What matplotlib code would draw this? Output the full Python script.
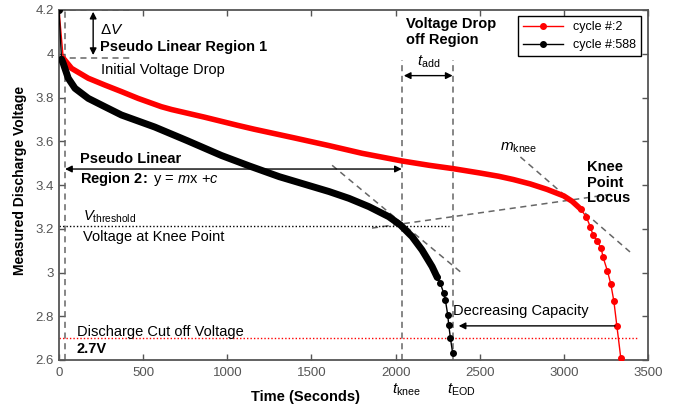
import matplotlib
matplotlib.use("Agg")
import matplotlib.pyplot as plt
from matplotlib.transforms import blended_transform_factory

plt.rcParams['font.family'] = ['Liberation Sans', 'DejaVu Sans']
plt.rcParams['mathtext.fontset'] = 'custom'
plt.rcParams['mathtext.rm'] = 'Liberation Sans'
plt.rcParams['mathtext.it'] = 'Liberation Sans:italic'
plt.rcParams['mathtext.bf'] = 'Liberation Sans:bold'

# ---- data ----
red_t = [0, 25, 75, 174, 272, 371, 470, 608, 669, 865, 1060, 1160, 1400, 1605, 1800,
         2037, 2200, 2340, 2500, 2612, 2700, 2800, 2900, 3000, 3050, 3100, 3133, 3157,
         3174, 3198, 3222, 3233, 3259, 3279, 3297, 3315, 3338]
red_v = [4.20, 3.98, 3.933, 3.888, 3.857, 3.827, 3.796, 3.758, 3.745, 3.71, 3.673, 3.655,
         3.615, 3.58, 3.545, 3.51, 3.49, 3.475, 3.455, 3.44, 3.425, 3.405, 3.38, 3.35,
         3.325, 3.29, 3.254, 3.21, 3.17, 3.144, 3.11, 3.07, 3.007, 2.947, 2.87, 2.756, 2.611]
red_dense = (1, 25)   # index range drawn as a thick band

blk_t = [0, 15, 25, 55, 95, 174, 272, 371, 569, 764, 965, 1131, 1309, 1605, 1723, 1842,
         1960, 2029, 2098, 2157, 2217, 2246, 2266, 2286, 2296, 2310, 2316, 2326, 2339]
blk_v = [4.20, 3.975, 3.956, 3.888, 3.842, 3.796, 3.758, 3.72, 3.665, 3.602, 3.535, 3.487,
         3.438, 3.37, 3.339, 3.301, 3.255, 3.217, 3.164, 3.103, 3.027, 2.98, 2.95, 2.906,
         2.874, 2.806, 2.76, 2.70, 2.632]
blk_dense = (1, 21)

series_labels = ['cycle #:2', 'cycle #:588']
x_ticks = [0, 500, 1000, 1500, 2000, 2500, 3000, 3500]
y_ticks = [2.6, 2.8, 3.0, 3.2, 3.4, 3.6, 3.8, 4.0, 4.2]
y_tick_labels = ['2.6', '2.8', '3', '3.2', '3.4', '3.6', '3.8', '4', '4.2']

fig = plt.figure(figsize=(6.81, 4.09), dpi=100)
ax = fig.add_axes([59/681, 1-360/409, 589/681, 350/409])

gray = '#555555'
# dense parts as thick bands
a, b = red_dense
ax.plot(red_t[a:b+1], red_v[a:b+1], color='red', lw=4.0,
        solid_capstyle='round', solid_joinstyle='round', zorder=3)
a, b = blk_dense
ax.plot(blk_t[a:b+1], blk_v[a:b+1], color='black', lw=5.0,
        solid_capstyle='round', solid_joinstyle='round', zorder=4)
# initial drop (thin) + start dot
ax.plot(red_t[:2], red_v[:2], color='red', lw=1.0, zorder=3)
ax.plot(blk_t[:2], blk_v[:2], color='black', lw=1.0, zorder=4)
ax.plot(blk_t[0], blk_v[0], 'o', color='black', ms=4, zorder=5)
# sparse tails with dots (also legend handles)
a, b = red_dense
ax.plot(red_t[b:], red_v[b:], color='red', lw=1.0, marker='o', ms=4, zorder=3,
        label=series_labels[0])
a, b = blk_dense
ax.plot(blk_t[b:], blk_v[b:], color='black', lw=1.0, marker='o', ms=4, zorder=4,
        label=series_labels[1])

ax.set_xlim(0, 3500)
ax.set_ylim(2.6, 4.2)
ax.set_xticks(x_ticks)
ax.set_yticks(y_ticks)
ax.set_yticklabels(y_tick_labels)
ax.tick_params(direction='in', top=True, right=True, length=4, width=1, colors=gray,
               labelsize=9.5, labelcolor=gray)
ax.tick_params(axis='x', pad=5)
for s in ax.spines.values():
    s.set_color(gray)
    s.set_linewidth(1.3)

dash = dict(color='#666666', lw=1.1, ls=(0, (4, 3)), zorder=2)
# initial voltage drop lines
ax.plot([0, 420], [4.2, 4.2], **dash)
ax.plot([0, 420], [3.982, 3.982], **dash)
ax.plot([36, 36], [2.6, 4.2], **dash)
ax.plot([2037, 2037], [2.6, 3.97], **dash)
ax.plot([2339, 2339], [2.6, 3.97], **dash)
# tangent / locus lines
ax.plot([1623, 2393], [3.49, 2.998], **dash)
ax.plot([1860, 3304], [3.203, 3.36], **dash)
ax.plot([2742, 3393], [3.528, 3.094], **dash)
# threshold dotted
ax.plot([0, 2315], [3.212, 3.212], color='black', lw=1.0, ls=(0, (1, 1.5)), zorder=2)
# cut off dotted
ax.plot([0, 3441], [2.70, 2.70], color='red', lw=1.0, ls=(0, (1, 1.5)), zorder=2)

ap2 = dict(arrowstyle='<|-|>', color='black', lw=1.0, mutation_scale=10, shrinkA=0, shrinkB=0)
ap1 = dict(arrowstyle='-|>', color='black', lw=1.0, mutation_scale=10, shrinkA=0, shrinkB=0)
ax.annotate('', xy=(203, 3.994), xytext=(203, 4.192), arrowprops=ap2)
ax.annotate('', xy=(36, 3.473), xytext=(2037, 3.473), arrowprops=ap2)
ax.annotate('', xy=(2049, 3.90), xytext=(2339, 3.90), arrowprops=ap2)
ax.annotate('', xy=(2375, 2.756), xytext=(3304, 2.756), arrowprops=ap1)

fs = 10.5
ax.text(243, 4.11, r'$\mathit{\Delta V}$', fontsize=11, va='center', ha='left')
ax.text(243, 4.03, 'Pseudo Linear Region 1', fontsize=fs, fontweight='bold', va='center')
ax.text(250, 3.926, 'Initial Voltage Drop', fontsize=fs, va='center')
ax.text(2061, 4.10, 'Voltage Drop\noff Region', fontsize=fs, fontweight='bold',
        va='center', linespacing=1.15)
ax.text(2197, 3.965, r'$\mathit{t}_{\mathrm{add}}$', fontsize=11, va='center', ha='center')
ax.text(124, 3.52, 'Pseudo Linear', fontsize=fs, fontweight='bold', va='center')
ax.text(124, 3.427, r'$\mathbf{Region\ 2\!:}$ y = $\mathit{m}$x +$\mathit{c}$', fontsize=fs,
        va='center')
ax.text(142, 3.255, r'$\mathit{V}_{\mathrm{threshold}}$', fontsize=10.5, va='center')
ax.text(142, 3.16, 'Voltage at Knee Point', fontsize=fs, va='center')
ax.text(2623, 3.57, r'$\mathit{m}_{\mathrm{knee}}$', fontsize=11, va='center')
ax.text(3140, 3.41, 'Knee\nPoint\nLocus', fontsize=fs, fontweight='bold', va='center',
        linespacing=1.15)
ax.text(2339, 2.824, 'Decreasing Capacity', fontsize=fs, va='center')
ax.text(106, 2.73, 'Discharge Cut off Voltage', fontsize=fs, va='center')
ax.text(106, 2.65, '2.7V', fontsize=fs, fontweight='bold', va='center')

tr = blended_transform_factory(ax.transData, ax.transAxes)
ax.text(2066, -0.086, r'$\mathit{t}_{\mathrm{knee}}$', transform=tr, fontsize=11,
        ha='center', va='center')
ax.text(2393, -0.086, r'$\mathit{t}_{\mathrm{EOD}}$', transform=tr, fontsize=11,
        ha='center', va='center')
ax.text(0.418, -0.106, 'Time (Seconds)', transform=ax.transAxes, fontsize=10.5,
        fontweight='bold', ha='center', va='center')
ax.text(-0.066, 0.514, 'Measured Discharge Voltage', transform=ax.transAxes, fontsize=10,
        fontweight='bold', ha='center', va='center', rotation=90)

leg = ax.legend(loc='upper right', bbox_to_anchor=(0.988, 0.983), fontsize=9,
                frameon=True, fancybox=False, framealpha=1, edgecolor='black',
                handlelength=3.2, borderpad=0.4, labelspacing=0.5, borderaxespad=0)
leg.get_frame().set_linewidth(1.0)

fig.savefig('out.png', dpi=100)
